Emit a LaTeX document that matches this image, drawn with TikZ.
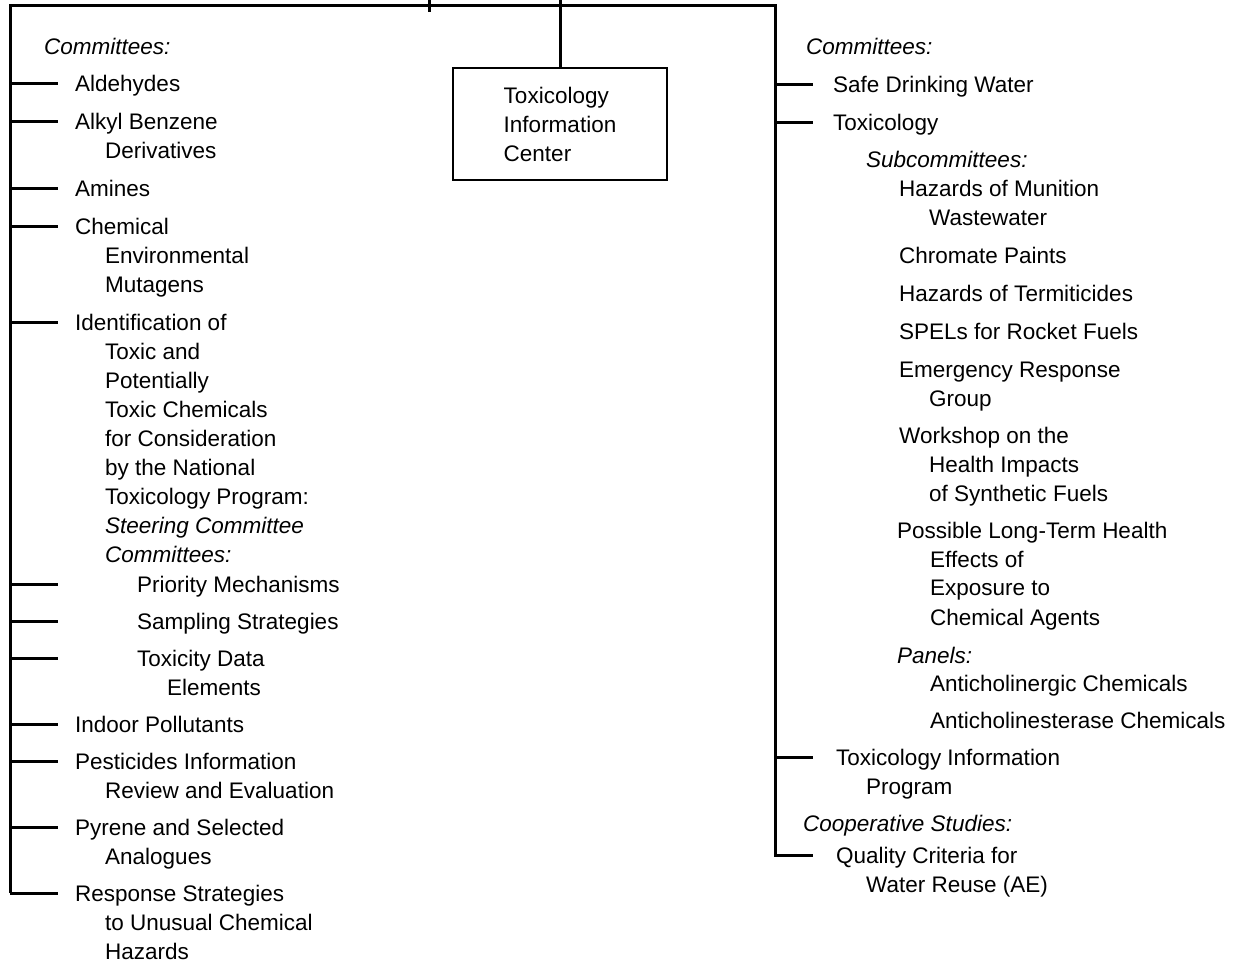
\documentclass[tikz,border=0pt]{standalone}
\usepackage{fontspec}
\setmainfont{Liberation Sans}
\usetikzlibrary{calc}
\newcommand\indL{\hspace*{30pt}}
\newcommand\itemlines[1]{\begin{tabular}[t]{@{}l@{}}#1\end{tabular}}

\begin{document}
\begin{tikzpicture}[
    x=1pt, y=-1pt,
    item/.style={anchor=base west, inner sep=0pt, font=\fontsize{22.5}{29}\selectfont},
    head/.style={item, font=\fontsize{22.5}{29}\selectfont\itshape},
    centerbox/.style={draw, line width=2.2pt, minimum width=214pt, minimum height=112pt, align=left, font=\fontsize{22.5}{29}\selectfont},
    link/.style={line width=3pt}
]
\useasboundingbox (0,0) rectangle (1243,965);

\coordinate (topL) at (10,6);
\coordinate (topR) at (775,6);
\coordinate (feedA) at (563,0);
\coordinate (feedB) at (429,0);

\node[centerbox] (center) at (560,124) {Toxicology\\Information\\Center};

% left column
\node[head] (headL) at (44,55) {Committees:};
\node[item] (aldehydes) at (75,92) {Aldehydes};
\node[item] (alkyl) at (75,130) {\itemlines{Alkyl Benzene\\\indL Derivatives}};
\node[item] (amines) at (75,197) {Amines};
\node[item] (chemical) at (75,235) {\itemlines{Chemical\\\indL Environmental\\\indL Mutagens}};
\node[item] (ident) at (75,331) {\itemlines{Identification of\\\indL Toxic and\\\indL Potentially\\\indL Toxic Chemicals\\\indL for Consideration\\\indL by the National\\\indL Toxicology Program:\\\indL\textit{Steering Committee}\\\indL\textit{Committees:}}};
\node[item] (priority) at (137,592) {Priority Mechanisms};
\node[item] (sampling) at (137,629) {Sampling Strategies};
\node[item] (toxdata) at (137,666) {\itemlines{Toxicity Data\\\indL Elements}};
\node[item] (indoor) at (75,732) {Indoor Pollutants};
\node[item] (pesticides) at (75,769) {\itemlines{Pesticides Information\\\indL Review and Evaluation}};
\node[item] (pyrene) at (75,835) {\itemlines{Pyrene and Selected\\\indL Analogues}};
\node[item] (response) at (75,901) {\itemlines{Response Strategies\\\indL to Unusual Chemical\\\indL Hazards}};

% right column
\node[head] (headR) at (806,55) {Committees:};
\node[item] (safe) at (833,93) {Safe Drinking Water};
\node[item] (toxcom) at (833,131) {Toxicology};
\node[head] (subhead) at (866,168) {Subcommittees:};
\node[item] (munition) at (899,197) {\itemlines{Hazards of Munition\\\indL Wastewater}};
\node[item] (chromate) at (899,264) {Chromate Paints};
\node[item] (termiticides) at (899,302) {Hazards of Termiticides};
\node[item] (spels) at (899,340) {SPELs for Rocket Fuels};
\node[item] (emergency) at (899,378) {\itemlines{Emergency Response\\\indL Group}};
\node[item] (workshop) at (899,444) {\itemlines{Workshop on the\\\indL Health Impacts\\\indL of Synthetic Fuels}};
\node[item] (possible) at (897,538) {\itemlines{Possible Long-Term Health\\\indL\hspace*{3pt}Effects of\\\indL\hspace*{3pt}Exposure to\\\indL\hspace*{3pt}Chemical Agents}};
\node[head] (panels) at (897,663) {Panels:};
\node[item] (anticholinergic) at (930,691) {Anticholinergic Chemicals};
\node[item] (anticholinesterase) at (930,728) {Anticholinesterase Chemicals};
\node[item] (tip) at (836,765) {\itemlines{Toxicology Information\\\indL Program}};
\node[head] (coop) at (803,831) {Cooperative Studies:};
\node[item] (quality) at (836,863) {\itemlines{Quality Criteria for\\\indL Water Reuse (AE)}};

% frame
\draw[link] (feedB) -- ++(0,12);
\draw[link] (center.north) -- (center.north |- feedA);
\draw[link] ($(response.base west -| topL)+(0,-8)$) -- (topL) -- (topR) -- ($(quality.base west -| topR)+(0,-8)$) -- ++(38,0);
\draw[link] ($(response.base west -| topL)+(0,-8)$) -- ++(48,0);

% ticks
\foreach \n in {aldehydes,alkyl,amines,chemical,ident,priority,sampling,toxdata,indoor,pesticides,pyrene}
    \draw[link] ($(\n.base west -| topL)+(0,-8)$) -- ++(48,0);
\foreach \n in {safe,toxcom,tip}
    \draw[link] ($(\n.base west -| topR)+(0,-8)$) -- ++(38,0);
\end{tikzpicture}
\end{document}
